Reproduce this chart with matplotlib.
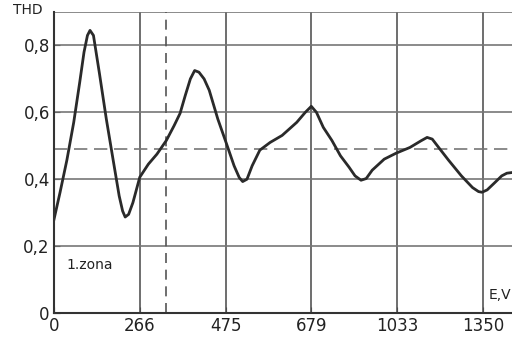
import matplotlib.pyplot as plt

# x is in grid units: the axis is not linear, each labelled line is one unit apart
tick_pos = [0, 1, 2, 3, 4, 5]
tick_labels = ["0", "266", "475", "679", "1033", "1350"]
y_ticks = [0, 0.2, 0.4, 0.6, 0.8]
y_labels = ["0", "0,2", "0,4", "0,6", "0,8"]

x_curve = [0.0, 0.07, 0.15, 0.23, 0.30, 0.35, 0.39, 0.42, 0.46, 0.53, 0.61, 0.69, 0.76, 0.80, 0.83, 0.87, 0.92,
           1.0, 1.1, 1.2, 1.31, 1.40, 1.47, 1.53, 1.59, 1.64, 1.69, 1.75, 1.81, 1.91, 2.01, 2.10, 2.16, 2.20, 2.25,
           2.31, 2.40, 2.52, 2.66, 2.83, 2.93, 3.0, 3.06, 3.14, 3.24, 3.34, 3.44, 3.51, 3.58, 3.64, 3.71, 3.85,
           3.99, 4.15, 4.28, 4.35, 4.41, 4.50, 4.60, 4.75, 4.88, 4.95, 4.99, 5.05, 5.14, 5.22, 5.28, 5.34]
y_curve = [0.28, 0.36, 0.457, 0.57, 0.69, 0.78, 0.83, 0.845, 0.83, 0.716, 0.58, 0.457, 0.35, 0.305, 0.287, 0.295, 0.33,
           0.406, 0.445, 0.475, 0.516, 0.56, 0.597, 0.65, 0.70, 0.725, 0.72, 0.70, 0.666, 0.58, 0.507, 0.44, 0.405, 0.393, 0.40,
           0.44, 0.487, 0.51, 0.531, 0.57, 0.60, 0.618, 0.60, 0.555, 0.516, 0.47, 0.436, 0.41, 0.397, 0.402, 0.427, 0.46,
           0.478, 0.495, 0.515, 0.525, 0.52, 0.49, 0.457, 0.41, 0.375, 0.363, 0.361, 0.368, 0.39, 0.41, 0.418, 0.42]

fig = plt.figure(figsize=(5.12, 3.4), dpi=100)
ax = fig.add_axes([54 / 512, 1 - 313 / 340, 1 - 54 / 512, (313 - 12) / 340])
ax.set_xlim(0, 5.34)
ax.set_ylim(0, 0.9)

gcol = "#555555"
for x in tick_pos[1:]:
    ax.axvline(x, color=gcol, lw=1.2)
for y in y_ticks[1:] + [0.9]:
    ax.axhline(y, color="#777777", lw=1.2)
ax.axvline(1.31, color=gcol, lw=1.2, ls=(0, (6, 4)))
ax.axhline(0.49, color="#777777", lw=1.2, ls=(0, (8, 4)))

ax.plot(x_curve, y_curve, color="#2a2a2a", lw=2)

for s in ["top", "right"]:
    ax.spines[s].set_visible(False)
for s in ["left", "bottom"]:
    ax.spines[s].set_color("#333333")
    ax.spines[s].set_linewidth(1.5)

ax.set_xticks(tick_pos)
ax.set_xticklabels(tick_labels)
ax.set_yticks(y_ticks)
ax.set_yticklabels(y_labels)
ax.tick_params(labelsize=12, length=4, direction="in", colors="#222222", pad=3)

ax.text(-0.30, 0.905, "THD", fontsize=10, ha="center", va="center", color="#222222", clip_on=False)
ax.text(5.33, 0.055, "E,V", fontsize=10, ha="right", va="center", color="#222222", clip_on=False)
ax.text(0.15, 0.145, "1.zona", fontsize=10, ha="left", va="center", color="#222222")

fig.savefig("out.png", dpi=100)
